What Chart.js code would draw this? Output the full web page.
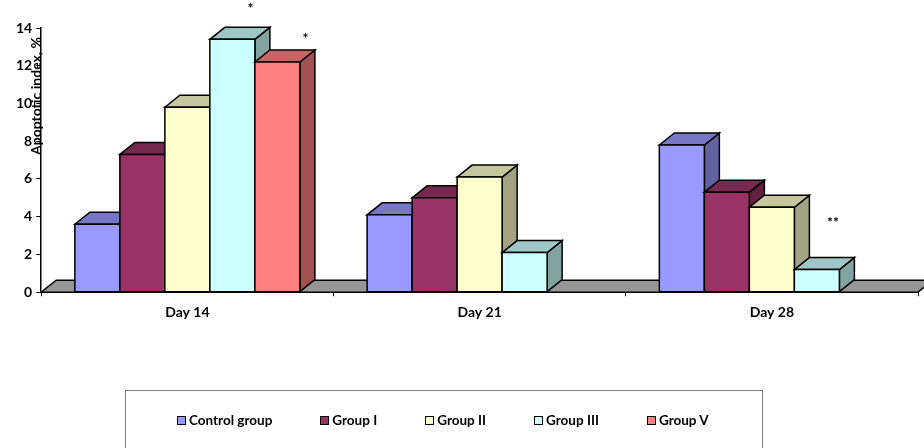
<!DOCTYPE html>
<html>
<head>
<meta charset="utf-8">
<script src="https://cdn.jsdelivr.net/npm/chart.js@4/dist/chart.umd.min.js"></script>
<style>
  html, body { margin: 0; padding: 0; background: #fff; }
  #wrap { position: relative; width: 924px; height: 448px; overflow: hidden; }
  #legend {
    position: absolute; left: 125px; top: 390px; width: 638px; height: 80px;
    border: 1px solid #808080; box-sizing: border-box;
    font: bold 13.5px/17px Lato, sans-serif; color: #000;
    display: flex; align-items: flex-start; padding: 21px 0 0 51px;
  }
  #legend .item { display: flex; align-items: center; margin-right: 48px; white-space: nowrap; }
  #legend .sw { width: 7px; height: 7px; border: 1.5px solid #000; margin-right: 3px; }
</style>
</head>
<body>
<div id="wrap">
  <canvas id="chart" width="924" height="448"></canvas>
  <div id="legend"></div>
</div>
<script>
// categories and series
const days = ['Day 14', 'Day 21', 'Day 28'];
const groupNames = ['Control group', 'Group I', 'Group II', 'Group III', 'Group V'];
const controlGroup = [3.6, 4.1, 7.8];
const groupI = [7.3, 5.0, 5.3];
const groupII = [9.8, 6.1, 4.5];
const groupIII = [13.4, 2.1, 1.2];
const groupV = [12.2, null, null];
const yTicks = [0, 2, 4, 6, 8, 10, 12, 14];

// significance marks: series index, category index, text
const marks = [
  { series: 3, day: 0, text: '*' },
  { series: 4, day: 0, text: '*' },
  { series: 3, day: 2, text: '**' }
];
const markOffsets = [[18, -31], [28, -23], [16, -47]];

const colors = ['#9999FF', '#993366', '#FFFFCC', '#CCFFFF', '#FF8080'];
const depth = { dx: 15, dy: 12 };
const font = 'Lato, sans-serif';

function shade(hex, f) {
  const n = parseInt(hex.slice(1), 16);
  const r = Math.round(((n >> 16) & 255) * f);
  const g = Math.round(((n >> 8) & 255) * f);
  const b = Math.round((n & 255) * f);
  return 'rgb(' + r + ',' + g + ',' + b + ')';
}

function poly(ctx, pts, fill) {
  ctx.beginPath();
  ctx.moveTo(pts[0][0], pts[0][1]);
  for (let i = 1; i < pts.length; i++) ctx.lineTo(pts[i][0], pts[i][1]);
  ctx.closePath();
  ctx.fillStyle = fill;
  ctx.fill();
  ctx.stroke();
}

const bars3d = {
  id: 'bars3d',
  beforeDatasetsDraw(chart) {
    const { ctx, chartArea: a } = chart;
    ctx.save();
    ctx.lineWidth = 1.5;
    ctx.strokeStyle = '#000';
    poly(ctx, [[a.left, a.bottom], [a.left + depth.dx, a.bottom - depth.dy],
               [a.right + depth.dx, a.bottom - depth.dy], [a.right, a.bottom]], '#969696');
    ctx.restore();
  },
  afterDatasetsDraw(chart) {
    const ctx = chart.ctx;
    ctx.save();
    ctx.lineWidth = 1.5;
    ctx.strokeStyle = '#000';
    chart.data.datasets.forEach((ds, i) => {
      const meta = chart.getDatasetMeta(i);
      const c = colors[i];
      meta.data.forEach((el, j) => {
        if (ds.data[j] == null) return;
        const { x, y, base, width } = el.getProps(['x', 'y', 'base', 'width'], true);
        const l = x - width / 2, r = x + width / 2;
        const { dx, dy } = depth;
        poly(ctx, [[r, y], [r + dx, y - dy], [r + dx, base - dy], [r, base]], shade(c, 0.64));
        poly(ctx, [[l, y], [l + dx, y - dy], [r + dx, y - dy], [r, y]], shade(c, 0.78));
        poly(ctx, [[l, y], [r, y], [r, base], [l, base]], c);
      });
    });
    // asterisks
    ctx.fillStyle = '#000';
    ctx.font = 'bold 14px ' + font;
    ctx.textAlign = 'center';
    ctx.textBaseline = 'middle';
    marks.forEach((m, k) => {
      const el = chart.getDatasetMeta(m.series).data[m.day];
      ctx.fillText(m.text, el.x + markOffsets[k][0], el.y + markOffsets[k][1]);
    });
    ctx.restore();
  },
  afterDraw(chart) {
    const { ctx, chartArea: a } = chart;
    ctx.save();
    ctx.translate(a.left - 5, a.top + 68);
    ctx.rotate(-Math.PI / 2);
    ctx.font = 'bold 14px ' + font;
    ctx.fillStyle = '#000';
    ctx.textAlign = 'center';
    ctx.textBaseline = 'middle';
    ctx.fillText('Apoptotic index, %', 0, 0);
    ctx.restore();
  }
};

const series = [controlGroup, groupI, groupII, groupIII, groupV];

new Chart(document.getElementById('chart'), {
  type: 'bar',
  data: {
    labels: days,
    datasets: series.map((d, i) => ({
      label: groupNames[i],
      data: d,
      backgroundColor: 'rgba(0,0,0,0)',
      borderWidth: 0,
      barPercentage: 1,
      categoryPercentage: 0.77
    }))
  },
  options: {
    responsive: false,
    animation: false,
    layout: { padding: { top: 28, left: 12, right: 6, bottom: 119 } },
    plugins: { legend: { display: false }, tooltip: { enabled: false } },
    scales: {
      x: {
        grid: { drawOnChartArea: false, tickLength: 4, color: '#000', tickWidth: 1 },
        border: { color: '#000', width: 1.5 },
        ticks: { color: '#000', padding: 8, font: { family: font, weight: 'bold', size: 14 } }
      },
      y: {
        min: 0, max: 14,
        afterBuildTicks: (axis) => { axis.ticks = yTicks.map(v => ({ value: v })); },
        grid: { drawOnChartArea: false, tickLength: 5, color: '#000' },
        border: { color: '#000', width: 1.5 },
        ticks: { color: '#000', padding: 4, font: { family: font, weight: 'bold', size: 14 } }
      }
    }
  },
  plugins: [bars3d]
});

// legend
const legend = document.getElementById('legend');
groupNames.forEach((name, i) => {
  const item = document.createElement('div');
  item.className = 'item';
  const sw = document.createElement('span');
  sw.className = 'sw';
  sw.style.background = colors[i];
  const t = document.createElement('span');
  t.textContent = name;
  item.appendChild(sw);
  item.appendChild(t);
  legend.appendChild(item);
});
</script>
</body>
</html>
